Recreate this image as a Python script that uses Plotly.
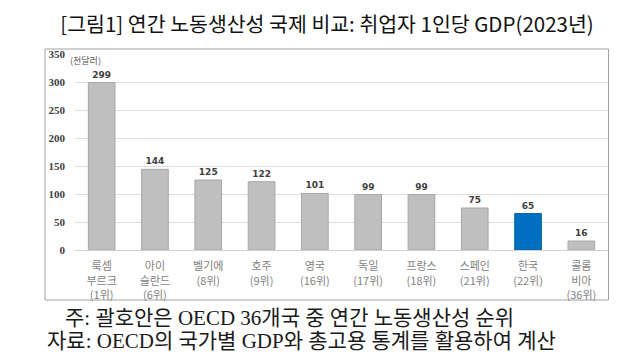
import plotly.graph_objects as go

# ---- data ----
country_line1 = ["룩셈", "아이", "벨기에", "호주", "영국", "독일", "프랑스", "스페인", "한국", "콜롬"]
country_line2 = ["부르크", "슬란드", "", "", "", "", "", "", "", "비아"]
oecd_rank = [1, 6, 8, 9, 16, 17, 18, 21, 22, 36]
gdp_per_worker = [299, 144, 125, 122, 101, 99, 99, 75, 65, 16]
highlight_country = "한국"
y_ticks = [0, 50, 100, 150, 200, 250, 300, 350]

title_text = "[그림1] 연간 노동생산성 국제 비교: 취업자 1인당 GDP(2023년)"
unit_text = "(천달러)"
note_text = "주: 괄호안은 OECD 36개국 중 연간 노동생산성 순위"
source_text = "자료: OECD의 국가별 GDP와 총고용 통계를 활용하여 계산"

# ---- build labels ----
labels = []
for l1, l2, r in zip(country_line1, country_line2, oecd_rank):
    parts = [l1] + ([l2] if l2 else []) + [f"({r}위)"]
    labels.append("<br>".join(parts))

colors = ["#0070C0" if c == highlight_country else "#BFBFBF" for c in country_line1]
line_colors = ["#0062A8" if c == highlight_country else "#A6A6A6" for c in country_line1]

fig = go.Figure(
    go.Bar(
        x=labels,
        y=gdp_per_worker,
        marker=dict(color=colors, line=dict(color=line_colors, width=1)),
        text=[str(v) for v in gdp_per_worker],
        textposition="outside",
        textfont=dict(family="DejaVu Sans", size=9, color="#404040", weight="bold"),
        cliponaxis=False,
        width=0.5,
    )
)

L, R, T, B = 75, 32, 54, 110
W, H = 640, 360
pw, ph = W - L - R, H - T - B

def px_x(p):
    return (p - L) / pw

def px_y(p):
    return (H - B - p) / ph

fig.update_layout(
    width=W,
    height=H,
    margin=dict(l=L, r=R, t=T, b=B, pad=0),
    paper_bgcolor="white",
    plot_bgcolor="white",
    showlegend=False,
    bargap=0.5,
    title=dict(
        text=title_text,
        x=327 / W,
        xanchor="center",
        y=1 - 25 / H,
        yanchor="middle",
        yref="container",
        font=dict(family="Noto Sans CJK KR", size=20.5, color="#111111"),
    ),
    xaxis=dict(
        showgrid=False,
        showline=True,
        linecolor="#D0D0D0",
        linewidth=1,
        ticks="",
        ticklabelstandoff=6,
        tickfont=dict(family="Noto Sans CJK KR", size=11, color="#7F7F7F"),
        tickangle=0,
    ),
    yaxis=dict(
        range=[0, 350],
        tickvals=y_ticks,
        showgrid=True,
        gridcolor="#DDDDDD",
        gridwidth=1,
        zeroline=False,
        showline=False,
        ticks="",
        ticklabelstandoff=9,
        tickfont=dict(family="Liberation Serif", size=11, color="#404040", weight="bold"),
    ),
    shapes=[
        dict(
            type="rect",
            xref="paper",
            yref="paper",
            x0=px_x(45),
            x1=px_x(608.5),
            y0=px_y(300),
            y1=px_y(49),
            line=dict(color="#A0A0A0", width=1),
            fillcolor="rgba(0,0,0,0)",
            layer="below",
        )
    ],
    annotations=[
        dict(
            text=unit_text,
            xref="paper", yref="paper",
            x=px_x(68), y=px_y(60),
            xanchor="left", yanchor="middle",
            showarrow=False,
            font=dict(family="Noto Sans CJK KR", size=9, color="#595959"),
        ),
        dict(
            text=note_text,
            xref="paper", yref="paper",
            x=px_x(63), y=px_y(318),
            xanchor="left", yanchor="middle",
            showarrow=False,
            font=dict(family="Liberation Serif, Noto Sans CJK KR", size=21, color="#1a1a1a"),
        ),
        dict(
            text=source_text,
            xref="paper", yref="paper",
            x=px_x(45), y=px_y(341),
            xanchor="left", yanchor="middle",
            showarrow=False,
            font=dict(family="Liberation Serif, Noto Sans CJK KR", size=21, color="#1a1a1a"),
        ),
    ],
)

fig.write_html(
    "out.html",
    config={"displayModeBar": False},
    post_script="document.body.style.margin='0';document.body.style.padding='0';",
)
